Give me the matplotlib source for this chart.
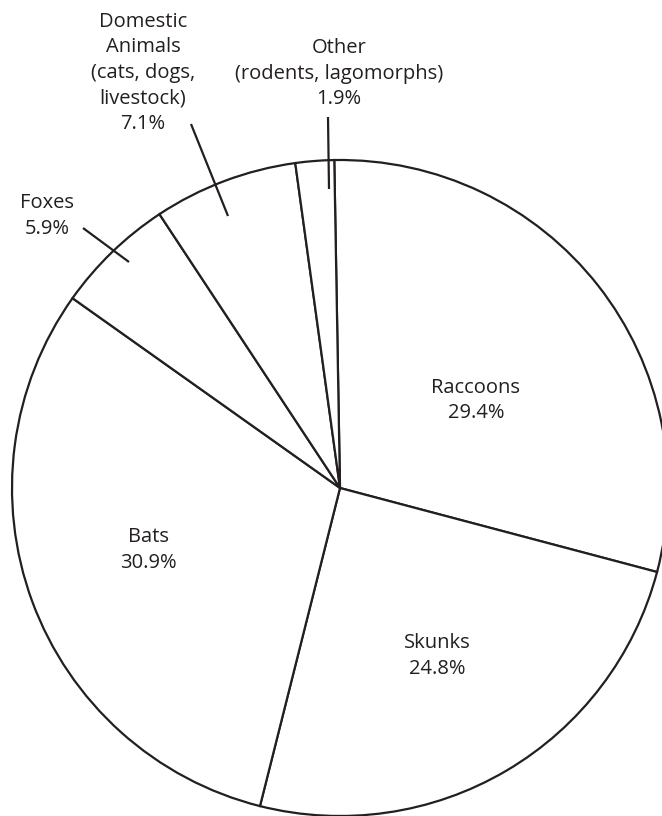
import matplotlib
matplotlib.use("Agg")
import matplotlib.pyplot as plt

# ---- data ----
categories = ["Raccoons", "Skunks", "Bats", "Foxes",
              "Domestic\nAnimals\n(cats, dogs,\nlivestock)",
              "Other\n(rodents, lagomorphs)"]
values = [29.4, 24.8, 30.9, 5.9, 7.1, 1.9]
pct_labels = ["29.4%", "24.8%", "30.9%", "5.9%", "7.1%", "1.9%"]

INK = "#231f20"
W, H = 662, 816
CX, CY, R = 340, 488, 328  # pixel geometry of the pie

plt.rcParams['font.family'] = ['Open Sans', 'DejaVu Sans']

fig = plt.figure(figsize=(W / 100, H / 100), dpi=100)
ax = fig.add_axes([0, 0, 1, 1])

ax.pie(values, startangle=91, counterclock=False, radius=1.0,
       wedgeprops=dict(facecolor="white", edgecolor=INK, linewidth=1.6,
                       joinstyle="miter"))

ax.set_xlim(-CX / R, (W - CX) / R)
ax.set_ylim(-(H - CY) / R, CY / R)
ax.set_aspect('equal', adjustable='box')
ax.axis('off')


def px(x, y):
    return (x - CX) / R, (CY - y) / R


FS = 14.5
LS = 25.5  # line spacing in px


def block(lines, cx, first_baseline, ha='center'):
    for i, line in enumerate(lines):
        x, y = px(cx, first_baseline + i * LS)
        ax.text(x, y, line, ha=ha, va='baseline', fontsize=FS, color=INK)


# label blocks: (text lines, center x, first baseline y) in pixels
block([categories[0], pct_labels[0]], 476, 393)
block([categories[1], pct_labels[1]], 437, 648)
block([categories[2], pct_labels[2]], 148, 542)
block([categories[3], pct_labels[3]], 47, 208)
block(categories[4].split("\n") + [pct_labels[4]], 143, 27)
block(categories[5].split("\n") + [pct_labels[5]], 339, 53)

# leader lines
for (x0, y0), (x1, y1) in [((328, 117), (329, 189)),
                           ((191, 124), (228, 216)),
                           ((83, 228), (129, 262))]:
    a, b = px(x0, y0)
    c, d = px(x1, y1)
    ax.plot([a, c], [b, d], color=INK, lw=1.6, solid_capstyle='butt')

fig.savefig("out.png", dpi=100)
